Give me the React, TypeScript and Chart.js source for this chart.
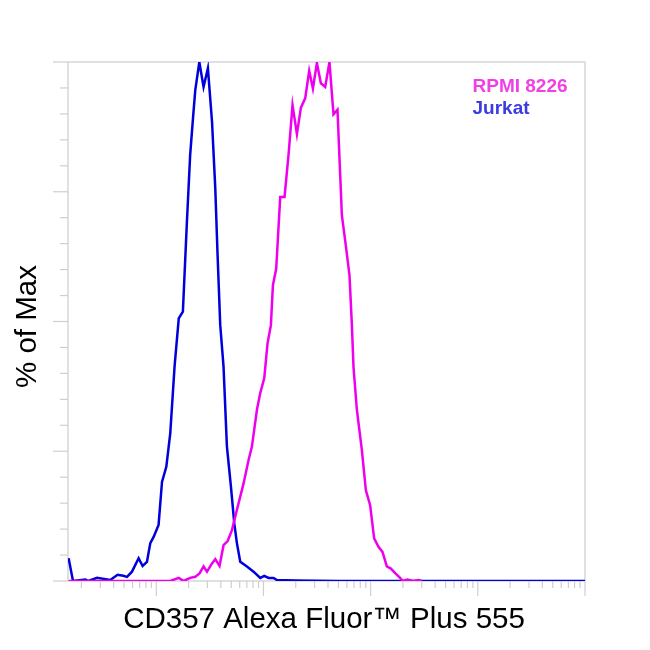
import { useEffect, useRef } from "react";
import { Chart, registerables, Plugin } from "chart.js";

Chart.register(...registerables);

/* ---------------- Data ---------------- */

// fluorescence intensity (log axis) and % of max
const jurkatX = [
  15.2, 16.7, 21.8, 23.2, 28, 37.2, 43.5, 49.2, 53.3, 59.3, 68.4, 74.5, 81.8,
  87.9, 94.4, 105, 113, 124, 135, 148, 162, 177, 193, 207, 220, 231, 252, 276,
  303, 331, 355, 373, 395, 424, 456, 497, 534, 565, 607, 701, 808, 933, 1017,
  1115, 1241, 1334, 2000, 5000, 20000, 100000, 1000000,
];
const jurkatY = [
  4.4, 0, 0.3, 0, 0.6, 0.2, 1.2, 1.0, 0.8, 1.8, 4.4, 2.9, 3.7, 7.3, 8.5, 10.8,
  19.1, 22.0, 28.5, 41.3, 50.6, 51.9, 69.2, 82.1, 89.2, 94.6, 100, 95.2, 98.8,
  88.5, 75.7, 62.8, 49.3, 41.3, 25.9, 18.2, 11.1, 7.3, 3.7, 2.8, 1.8, 0.6, 1.0,
  0.6, 0.6, 0.2, 0.1, 0, 0, 0, 0,
];

const rpmiX = [
  15.2, 60, 135, 162, 180, 207, 231, 254, 276, 297, 331, 355, 389, 424, 463,
  508, 565, 652, 726, 780, 869, 933, 1017, 1091, 1173, 1225, 1315, 1433, 1572,
  1713, 1867, 2051, 2235, 2450, 2671, 2893, 3150, 3433, 3765, 4128, 4500, 4903,
  5387, 5911, 6347, 6681, 6915, 7436, 8279, 9020, 9890, 10780, 11830, 12890,
  14160, 15430, 16920, 18440, 19950, 22030, 25060, 27900, 30000,
];
const rpmiY = [
  0, 0, 0, 0.6, 0, 0.6, 0.8, 1.5, 2.8, 1.8, 3.4, 4.2, 2.9, 6.9, 7.7, 9.8, 13.7,
  18.8, 23.3, 25.9, 33.0, 36.2, 39.1, 45.8, 49.3, 57.0, 60.2, 74.0, 74.0, 82.1,
  91.7, 86.1, 91.2, 93.0, 98.3, 94.9, 99.8, 95.9, 95.2, 100, 89.9, 90.8, 70.5,
  64.1, 58.9, 49.3, 41.3, 33.0, 25.2, 17.5, 14.6, 8.2, 6.6, 5.6, 2.8, 2.4, 1.5,
  0.8, 0, 0.3, 0, 0.2, 0,
];

const xMin = 15;
const xMax = 1000000;
const yTickValues = [0, 5, 10, 15, 20, 25, 30, 35, 40, 45, 50, 55, 60, 65, 70, 75, 80, 85, 90, 95, 100];
const xDecades = [10, 100, 1000, 10000, 100000, 1000000];

const seriesNames = ["RPMI 8226", "Jurkat"];

const xTitle = "CD357 Alexa Fluor™ Plus 555";
const yTitle = "% of Max";

/* ---------------- Plugin ---------------- */

const framePlugin: Plugin<"line"> = {
  id: "frame",
  beforeDatasetsDraw(chart) {
    const { ctx, chartArea } = chart;
    const { left, right, top, bottom } = chartArea;
    const xs = chart.scales.x;
    const ys = chart.scales.y;
    ctx.save();
    ctx.strokeStyle = "#d6d6d6";
    ctx.lineWidth = 1.5;
    ctx.strokeRect(left, top, right - left, bottom - top);

    ctx.lineWidth = 1.2;
    ctx.strokeStyle = "#cfcfcf";
    // y ticks
    yTickValues.forEach((v) => {
      const y = ys.getPixelForValue(v);
      const len = v % 25 === 0 ? 15 : 8;
      ctx.beginPath();
      ctx.moveTo(left - len, y);
      ctx.lineTo(left, y);
      ctx.stroke();
    });
    // x ticks, log placement
    xDecades.forEach((dec) => {
      for (let d = 1; d <= 9; d++) {
        const v = d * dec;
        if (v < xMin || v > xMax) continue;
        const x = xs.getPixelForValue(v);
        const len = d === 1 ? 15 : 7;
        ctx.beginPath();
        ctx.moveTo(x, bottom);
        ctx.lineTo(x, bottom + len);
        ctx.stroke();
      }
    });
    ctx.restore();
  },
  afterDraw(chart) {
    const { ctx } = chart;
    ctx.save();
    ctx.fillStyle = "#000";
    ctx.font = "29.5px 'Liberation Sans', Arial, sans-serif";
    ctx.textAlign = "center";
    ctx.textBaseline = "alphabetic";
    ctx.fillText(xTitle, 324, 628);

    ctx.translate(36, 326.5);
    ctx.rotate(-Math.PI / 2);
    ctx.fillText(yTitle, 0, 0);
    ctx.restore();

    ctx.save();
    ctx.font = "bold 19px 'Liberation Sans', Arial, sans-serif";
    ctx.textAlign = "left";
    ctx.fillStyle = "#f23fe4";
    ctx.fillText(seriesNames[0], 472.5, 92);
    ctx.fillStyle = "#3b3be3";
    ctx.fillText(seriesNames[1], 472.5, 113.5);
    ctx.restore();
  },
};

/* ---------------- Component ---------------- */

const App = () => {
  const canvasRef = useRef<HTMLCanvasElement | null>(null);

  useEffect(() => {
    document.body.style.margin = "0";
    if (!canvasRef.current) return;

    const chart = new Chart(canvasRef.current, {
      type: "line",
      data: {
        datasets: [
          {
            label: seriesNames[0],
            data: rpmiX.map((x, i) => ({ x, y: rpmiY[i] })),
            borderColor: "#ee00ee",
            borderWidth: 2.5,
            pointRadius: 0,
            tension: 0,
          },
          {
            label: seriesNames[1],
            data: jurkatX.map((x, i) => ({ x, y: jurkatY[i] })),
            borderColor: "#0000dc",
            borderWidth: 2.5,
            pointRadius: 0,
            tension: 0,
          },
        ],
      },
      options: {
        responsive: true,
        maintainAspectRatio: false,
        animation: false,
        layout: {
          padding: { left: 68, top: 62, right: 65, bottom: 69 },
        },
        plugins: {
          legend: { display: false },
          tooltip: { enabled: false },
        },
        scales: {
          x: {
            type: "logarithmic",
            min: xMin,
            max: xMax,
            display: false,
          },
          y: {
            type: "linear",
            min: 0,
            max: 100,
            display: false,
          },
        },
      },
      plugins: [framePlugin],
    });

    return () => {
      chart.destroy();
    };
  }, []);

  return (
    <div style={{ width: 650, height: 650, position: "relative", background: "#fff" }}>
      <canvas ref={canvasRef}></canvas>
    </div>
  );
};

export default App;
